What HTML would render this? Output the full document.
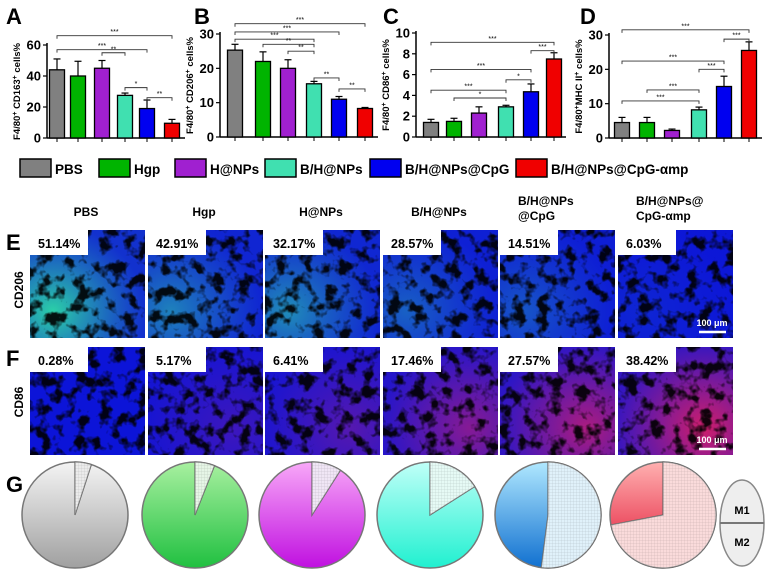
<!DOCTYPE html>
<html><head><meta charset="utf-8"><style>
html,body{margin:0;padding:0;background:#fff;width:768px;height:581px;overflow:hidden}
svg{display:block;font-family:"Liberation Sans",sans-serif}
.b{font-weight:bold}
</style></head><body>
<svg id="fig" width="768" height="581" viewBox="0 0 768 581">
<defs>
<filter id="tex" x="0" y="0" width="100%" height="100%"><feTurbulence type="fractalNoise" baseFrequency="0.08" numOctaves="3" seed="3"/><feColorMatrix type="matrix" values="0 0 0 0 0  0 0 0 0 0  0 0 0 0 0  0 0 0 -5 2.6"/></filter>
<pattern id="hatch" width="3" height="3" patternUnits="userSpaceOnUse"><rect width="3" height="3" fill="#fff" fill-opacity="0.7"/><path d="M0 0H3M0 0V3" stroke="#999" stroke-width="0.5"/></pattern>
</defs>
<g id="charts"></g>
<g id="legend"></g>
<g id="micro"></g>
<g id="pies"></g>
</svg>
<script>
const NS="http://www.w3.org/2000/svg";
function mk(tag,attrs,parent,txt){const e=document.createElementNS(NS,tag);for(const k in attrs)e.setAttribute(k,attrs[k]);if(txt!==undefined)e.textContent=txt;parent.appendChild(e);return e;}
const colors=["#808080","#00b400","#a020d0","#40e0b0","#0000f0","#f00000"];
const groups=["PBS","Hgp","H@NPs","B/H@NPs","B/H@NPs@CpG","B/H@NPs@CpG-αmp"];

// Panel A
const aVals=[44,40,45,27.5,19,9.5];
const aErr=[51,49.5,50,29,24.5,12];
const aTicks=[0,20,40,60];
const aSig=[[0,5,66,"***"],[0,4,57,"***"],[2,3,55,"**"],[3,4,32.5,"*"],[4,5,26,"**"]];
// Panel B
const bVals=[25.3,22,20,15.5,11,8.3];
const bErr=[27,24.8,22.5,16.2,11.8,8.6];
const bTicks=[0,10,20,30];
const bSig=[[0,5,33,"***"],[0,4,30.6,"***"],[0,3,28.5,"***"],[1,3,27,"**"],[2,3,25,"**"],[3,4,17.2,"**"],[4,5,14,"**"]];
// Panel C
const cVals=[1.4,1.5,2.3,2.9,4.35,7.5];
const cErr=[1.7,1.8,2.9,3.05,5.1,8.1];
const cTicks=[0,2,4,6,8,10];
const cSig=[[0,5,9.1,"***"],[4,5,8.3,"***"],[0,4,6.5,"***"],[3,4,5.5,"*"],[0,3,4.5,"***"],[1,3,3.75,"*"]];
// Panel D
const dVals=[4.5,4.5,2.2,8.2,15,25.5];
const dErr=[6,6,2.6,9,18,28];
const dTicks=[0,10,20,30];
const dSig=[[0,5,31.5,"***"],[4,5,28.8,"***"],[0,4,22.4,"***"],[3,4,20,"***"],[1,3,14,"***"],[0,3,10.8,"***"]];

// Panel E/F percentages, G M1 fractions
const cd206Pct=["51.14%","42.91%","32.17%","28.57%","14.51%","6.03%"];
const cd86Pct=["0.28%","5.17%","6.41%","17.46%","27.57%","38.42%"];
const m1Frac=[0.05,0.06,0.09,0.16,0.52,0.72];

const panels=[
 {id:"a",letter:"A",lx:6,vals:aVals,err:aErr,ticks:aTicks,sig:aSig,max:60,x0:47,x1:185,y0:138,ytop:45,cx:[57,78,102,125,147,172],title:["F4/80","+"," CD163","+"," cells%"]},
 {id:"b",letter:"B",lx:194,vals:bVals,err:bErr,ticks:bTicks,sig:bSig,max:30,x0:220,x1:378,y0:137,ytop:34,cx:[235,263,288,314,339,365],title:["F4/80","+"," CD206","+"," cells%"]},
 {id:"c",letter:"C",lx:383,vals:cVals,err:cErr,ticks:cTicks,sig:cSig,max:10,x0:416,x1:566,y0:137,ytop:33,cx:[431,454,479,506,531,554],title:["F4/80","+"," CD86","+"," cells%"]},
 {id:"d",letter:"D",lx:580,vals:dVals,err:dErr,ticks:dTicks,sig:dSig,max:30,x0:609,x1:762,y0:138,ytop:35,cx:[622,647,672,699,724,749],title:["F4/80","+","MHC II","+"," cells%"]}
];
const charts=document.getElementById("charts");
panels.forEach(p=>{
 const g=mk("g",{},charts);
 
 
 const y=v=>p.y0-(v/p.max)*(p.y0-p.ytop);
 const L=mk("text",{x:p.lx,y:24,"font-size":22,"class":"b"},g,p.letter);
 
 
 mk("line",{x1:p.x0,y1:p.ytop-2,x2:p.x0,y2:p.y0,stroke:"#000","stroke-width":1.5},g);
 mk("line",{x1:p.x0,y1:p.y0,x2:p.x1,y2:p.y0,stroke:"#000","stroke-width":1.5},g);
 p.ticks.forEach(t=>{
  mk("line",{x1:p.x0-4,y1:y(t),x2:p.x0,y2:y(t),stroke:"#000","stroke-width":1.2},g);
  const tl=mk("text",{x:p.x0-6,y:y(t)+4.5,"font-size":13,"text-anchor":"end","class":"b"},g,t);
  
  
 });
 const tt=mk("text",{transform:`translate(${p.x0-27},${(p.y0+p.ytop)/2}) rotate(-90)`,"font-size":9.5,"text-anchor":"middle","class":"b"},g);
 
 
 p.title.forEach((s,i)=>{mk("tspan",i%2?{"baseline-shift":"super","font-size":7}:{},tt,s);});
 p.vals.forEach((v,i)=>{
  const cx=p.cx[i];
  mk("line",{x1:cx,y1:p.y0,x2:cx,y2:p.y0+4,stroke:"#000"},g);
  mk("line",{x1:cx,y1:y(p.err[i]),x2:cx,y2:y(v),stroke:"#000","stroke-width":1.2},g);
  mk("line",{x1:cx-3.5,y1:y(p.err[i]),x2:cx+3.5,y2:y(p.err[i]),stroke:"#000","stroke-width":1.2},g);
  const r=mk("rect",{x:cx-7.5,y:y(v),width:15,height:p.y0-y(v),fill:colors[i],stroke:"#000","stroke-width":1.3},g);
  
  
 });
 p.sig.forEach(s=>{
  const yy=y(s[2]),xa=p.cx[s[0]],xb=p.cx[s[1]];
  mk("path",{d:`M${xa} ${yy+3}V${yy}H${xb}V${yy+3}`,fill:"none",stroke:"#333","stroke-width":0.9},g);
  const st=mk("text",{x:(xa+xb)/2,y:yy-1.5,"font-size":7,"text-anchor":"middle"},g,s[3]);
  
  
 });
});

// Legend
const leg=document.getElementById("legend");
const legX=[20,99,175,265,370,516];
groups.forEach((n,i)=>{
 const e=mk("g",{},leg);
 
 
 mk("rect",{x:legX[i],y:159,width:31,height:18,fill:colors[i],stroke:"#000","stroke-width":1.5},e);
 mk("text",{x:legX[i]+35,y:174,"font-size":13.5,"class":"b"},e,n);
});

// Microscopy
const micro=document.getElementById("micro");
const colX=[30,148,265,383,500,618];
const colTitles=[["PBS"],["Hgp"],["H@NPs"],["B/H@NPs"],["B/H@NPs","@CpG"],["B/H@NPs@","CpG-αmp"]];
colTitles.forEach((t,i)=>{
 t.forEach((s,j)=>{const e=mk("text",{x:colX[i]+ (t.length>1?18:56),y:(t.length>1?205:216)+j*15,"font-size":12,"class":"b","text-anchor":t.length>1?"start":"middle"},micro,s);
 
 });
});
const eGreen=[0.85,0.5,0.55,0.35,0.3,0.08];
const fRed=[0,0.2,0.3,0.5,0.65,0.8];
function panelImg(x,y,i,row){
 const g=mk("g",{},micro);
 
 
 mk("rect",{x:x,y:y,width:115,height:108,fill:"#0c14d8"},g);
 const a=row==="E"?eGreen[i]:fRed[i];
 const gid="gr"+row+i;
 const gd=mk("radialGradient",{id:gid,cx:row==="E"?"20%":"75%",cy:"75%",r:"80%"},g);
 mk("stop",{offset:"0","stop-color":row==="E"?"#30f0a0":"#ff2050","stop-opacity":a},gd);
 mk("stop",{offset:"1","stop-color":row==="E"?"#30c0a0":"#ff2050","stop-opacity":a*0.2},gd);
 mk("rect",{x:x,y:y,width:115,height:108,fill:`url(#${gid})`},g);
 mk("rect",{x:x,y:y,width:115,height:108,fill:"#000",filter:"url(#tex)",opacity:0.9},g);
 mk("rect",{x:x,y:y,width:58,height:25,fill:"#fff"},g);
 const t=mk("text",{x:x+8,y:y+18,"font-size":12.5,"class":"b"},g,row==="E"?cd206Pct[i]:cd86Pct[i]);
 
 
}
colX.forEach((x,i)=>{panelImg(x,230,i,"E");panelImg(x,347,i,"F");});
mk("text",{x:6,y:250,"font-size":22,"class":"b"},micro,"E");
mk("text",{x:6,y:366,"font-size":22,"class":"b"},micro,"F");
mk("text",{transform:"translate(23,290) rotate(-90)","font-size":12,"class":"b","text-anchor":"middle"},micro,"CD206");
mk("text",{transform:"translate(23,402) rotate(-90)","font-size":12,"class":"b","text-anchor":"middle"},micro,"CD86");
[230,347].forEach(yy=>{
 mk("text",{x:712,y:yy+96,"font-size":9,"class":"b",fill:"#fff","text-anchor":"middle"},micro,"100 μm");
 mk("line",{x1:699,y1:yy+102,x2:726,y2:yy+102,stroke:"#fff","stroke-width":2.5},micro);
});

// Pies
const pies=document.getElementById("pies");
mk("text",{x:6,y:492,"font-size":22,"class":"b"},pies,"G");
const pieCx=[75,195,312,430,548,663];
const pieTop=["#f4f4f4","#a8f0a0","#f8a8f8","#c0fff8","#b0e8ff","#ffb0b0"];
const pieBot=["#a0a0a0","#20c040","#c010e0","#20f0d0","#1070d0","#e01030"];
const m1Col=["#e0e0e0","#d8f0d8","#e8d8f0","#d8f8f0","#d0eaf8","#f8c8c8"];
pieCx.forEach((cx,i)=>{
 const cy=515,r=53;
 const g=mk("g",{},pies);
 
 
 const gid="pg"+i;
 const gd=mk("linearGradient",{id:gid,x1:0,y1:0,x2:0,y2:1},g);
 mk("stop",{offset:"0","stop-color":pieTop[i]},gd);
 mk("stop",{offset:"1","stop-color":pieBot[i]},gd);
 mk("circle",{cx:cx,cy:cy,r:r,fill:`url(#${gid})`,stroke:"#777","stroke-width":1.5},g);
 const ang=m1Frac[i]*2*Math.PI;
 const ex=cx+r*Math.sin(ang),ey=cy-r*Math.cos(ang);
 const d=`M${cx} ${cy}L${cx} ${cy-r}A${r} ${r} 0 ${m1Frac[i]>0.5?1:0} 1 ${ex} ${ey}Z`;
 const s=mk("path",{d:d,fill:m1Col[i],stroke:"#666","stroke-width":1.2},g);
 
 
 mk("path",{d:d,fill:"url(#hatch)",opacity:0.5},g);
});
const lg=mk("g",{},pies);


mk("ellipse",{cx:742,cy:523,rx:22,ry:43,fill:"#eee",stroke:"#888","stroke-width":1.5},lg);
mk("line",{x1:720,y1:523,x2:764,y2:523,stroke:"#777","stroke-width":2},lg);
mk("text",{x:742,y:514,"font-size":11,"class":"b","text-anchor":"middle"},lg,"M1");
mk("text",{x:742,y:546,"font-size":11,"class":"b","text-anchor":"middle"},lg,"M2");
</script>
</body></html>
